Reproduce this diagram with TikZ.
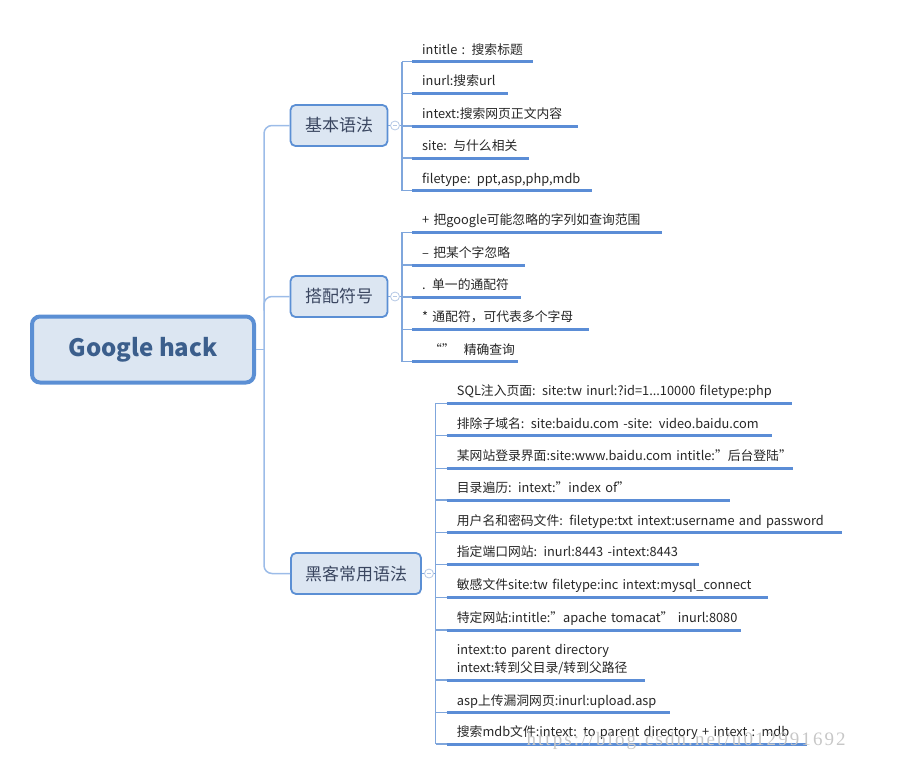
\documentclass[tikz,border=0pt]{standalone}
\usepackage{fontspec}
\setmainfont{Noto Sans CJK SC}
\newfontfamily\wmfont[LetterSpace=11]{Liberation Serif}
\usetikzlibrary{positioning}
\definecolor{rootfill}{HTML}{DCE6F2}
\definecolor{rootline}{HTML}{5B8FD4}
\definecolor{roottext}{HTML}{3B5E8C}
\definecolor{branchtext}{HTML}{3A4660}
\definecolor{trunkblue}{HTML}{9CBCE8}
\definecolor{twigblue}{HTML}{7FA6DC}
\definecolor{lineblue}{HTML}{5B8DD6}
\definecolor{foldline}{HTML}{B5C8E5}
\tikzstyle{root} = [rectangle, rounded corners=8pt, draw=rootline, line width=4pt,
    fill=rootfill, text=roottext, minimum width=222pt, minimum height=66pt,
    font=\fontsize{24}{28}\selectfont\bfseries]
\tikzstyle{branch} = [rectangle, rounded corners=5pt, draw=rootline, line width=1.8pt,
    fill=rootfill, text=branchtext, minimum height=41pt,
    font=\fontsize{17}{20}\selectfont]
\tikzstyle{leaf} = [anchor=south west, inner xsep=10pt, inner ysep=0pt,
    text height=10pt, text depth=7.5pt, align=left, text=black!85,
    font=\fontsize{12.8}{18}\selectfont]
\tikzstyle{fold} = [circle, draw=foldline, fill=white, line width=0.8pt,
    minimum size=9pt, inner sep=0pt,
    path picture={\draw[foldline, line width=0.8pt]
      ([xshift=-2.2pt]path picture bounding box.center) --
      ([xshift=2.2pt]path picture bounding box.center);}]
\tikzstyle{trunk} = [draw=trunkblue, line width=1.5pt]
\tikzstyle{twig} = [draw=twigblue, line width=1.1pt]
\tikzstyle{uline} = [draw=lineblue, line width=3pt]

\begin{document}
\begin{tikzpicture}[x=1pt, y=-1pt]
    \useasboundingbox (0,0) rectangle (902,774);

    \node [root] (google) at (143,349.5) {Google hack};
    \node [branch, minimum width=97pt] (basic) at (339,125.5) {基本语法};
    \node [branch, minimum width=97pt] (combo) at (339,296.5) {搭配符号};
    \node [branch, minimum width=130pt] (hacker) at (356,573.5) {黑客常用语法};

    % trunk
    \coordinate (tr) at (264,349.5);
    \path [trunk] (google.east) -- (tr);
    \path [trunk, rounded corners=8pt] (basic.west) -| (tr) |- (hacker.west);
    \path [trunk, rounded corners=8pt] (combo.west) -| ([yshift=-14pt]tr |- combo.west);

    % basic syntax
    \node [leaf, text width=101pt] (b1) at (412,61.7) {\mbox{intitle : 搜索标题}};
    \node [leaf, text width=76pt] (b2) at (412,93.3) {\mbox{inurl:搜索url}};
    \node [leaf, text width=146pt] (b3) at (412,126) {\mbox{intext:搜索网页正文内容}};
    \node [leaf, text width=97pt] (b4) at (412,158) {\mbox{site: 与什么相关}};
    \node [leaf, text width=160pt] (b5) at (412,190.7) {\mbox{filetype: ppt,asp,php,mdb}};

    \coordinate (sb) at (402,125.5);
    \path [twig] (basic.east) -- (sb);
    \path [twig] (sb |- b1.south west) -- (sb |- b5.south west);
    \foreach \n in {b1,b2,b3,b4,b5} {
        \path [twig] (sb |- \n.south west) -- (\n.south west);
        \path [uline] (\n.south west) -- (\n.south east);
    }
    \node [fold] (foldb) at (395,125.5) {};

    % combo symbols
    \node [leaf, text width=230pt] (c1) at (412,232.3) {\mbox{+ 把google可能忽略的字列如查询范围}};
    \node [leaf, text width=93pt] (c2) at (412,265) {\mbox{– 把某个字忽略}};
    \node [leaf, text width=89pt] (c3) at (412,297) {\mbox{. 单一的通配符}};
    \node [leaf, text width=157pt] (c4) at (412,329.3) {\mbox{* 通配符，可代表多个字母}};
    \node [leaf, text width=86pt] (c5) at (412,361.7) {\mbox{\hspace*{7pt}“”\hspace*{9pt}精确查询}};

    \coordinate (sc) at (402,296.5);
    \path [twig] (combo.east) -- (sc);
    \path [twig] (sc |- c1.south west) -- (sc |- c5.south west);
    \foreach \n in {c1,c2,c3,c4,c5} {
        \path [twig] (sc |- \n.south west) -- (\n.south west);
        \path [uline] (\n.south west) -- (\n.south east);
    }
    \node [fold] (foldc) at (395,296.5) {};

    % hacker syntax
    \node [leaf, text width=325pt] (h1) at (446.7,403.3) {\mbox{SQL注入页面: site:tw inurl:?id=1...10000 filetype:php}};
    \node [leaf, text width=305pt] (h2) at (446.7,435.7) {\mbox{排除子域名: site:baidu.com -site: video.baidu.com}};
    \node [leaf, text width=326pt] (h3) at (446.7,468.3) {\mbox{某网站登录界面:site:www.baidu.com intitle:"后台登陆"}};
    \node [leaf, text width=263pt] (h4) at (446.7,500) {\mbox{目录遍历: intext:"index of"}};
    \node [leaf, text width=375pt] (h5) at (446.7,532.7) {\mbox{用户名和密码文件: filetype:txt intext:username and password}};
    \node [leaf, text width=232pt] (h6) at (446.7,564.3) {\mbox{指定端口网站: inurl:8443 -intext:8443}};
    \node [leaf, text width=301pt] (h7) at (446.7,597.3) {\mbox{敏感文件site:tw filetype:inc intext:mysql\_connect}};
    \node [leaf, text width=274pt] (h8) at (446.7,630) {\mbox{特定网站:intitle:"apache tomacat" inurl:8080}};
    \node [leaf, text width=178pt, text depth=25.5pt] (h9) at (446.7,680) {\mbox{intext:to parent directory}\\\mbox{intext:转到父目录/转到父路径}};
    \node [leaf, text width=203pt] (h10) at (446.7,712.7) {\mbox{asp上传漏洞网页:inurl:upload.asp}};
    \node [leaf, text width=340pt] (h11) at (446.7,744) {\mbox{搜索mdb文件:intext: to parent directory + intext : mdb}};

    \coordinate (sh) at (435.7,573.5);
    \path [twig] (hacker.east) -- (sh);
    \path [twig] (sh |- h1.south west) -- (sh |- h11.south west);
    \foreach \n in {h1,h2,h3,h4,h5,h6,h7,h8,h9,h10,h11} {
        \path [twig] (sh |- \n.south west) -- (\n.south west);
        \path [uline] (\n.south west) -- (\n.south east);
    }
    \node [fold] (foldh) at (429,573.5) {};

    \node [anchor=west, text=black!22, font=\fontsize{19}{22}\wmfont] (mark) at (523,741) {https://blog.csdn.net/u012991692};

\end{tikzpicture}
\end{document}
